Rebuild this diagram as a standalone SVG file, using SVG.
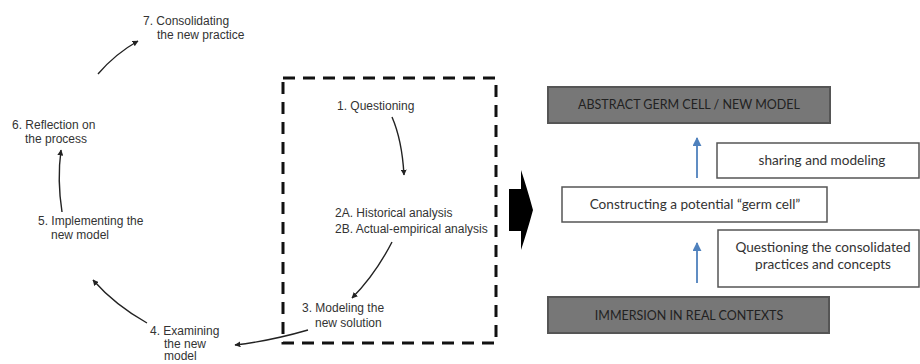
<svg xmlns="http://www.w3.org/2000/svg" width="920" height="364" viewBox="0 0 920 364">
<style>
.lt{font-family:"Liberation Sans",Arial,sans-serif;font-size:12px;fill:#333}
.rt{font-family:Lato,"Liberation Sans",sans-serif;font-size:13.6px;fill:#333;text-anchor:middle}
.up{font-size:12.5px;fill:#222}
.gray{fill:#777;stroke:#555;stroke-width:2}
.wbox{fill:#fff;stroke:#555;stroke-width:1.5}
.c{fill:none;stroke:#222;stroke-width:1.4;marker-end:url(#ah)}
.b{fill:none;stroke:#4f81bd;stroke-width:1.8;marker-end:url(#bh)}
</style>
<defs>
<marker id="ah" viewBox="0 0 10 10" refX="9" refY="5" markerWidth="6" markerHeight="6" orient="auto" markerUnits="userSpaceOnUse"><path d="M0,0 L10,5 L0,10 Z" fill="#222"/></marker>
<marker id="bh" viewBox="0 0 10 10" refX="9" refY="5" markerWidth="9" markerHeight="9" orient="auto" markerUnits="userSpaceOnUse"><path d="M0,0 L10,5 L0,10 Z" fill="#4f81bd"/></marker>
</defs>
<rect width="920" height="364" fill="#fff"/>
<g id="frame">
<rect x="283" y="78" width="213" height="265" fill="none" stroke="#111" stroke-width="3" stroke-dasharray="12,8"/>
</g>
<g id="n7"><text class="lt" x="143" y="25">7. Consolidating</text><text class="lt" x="157" y="39">the new practice</text></g>
<g id="n6"><text class="lt" x="12" y="129">6. Reflection on</text><text class="lt" x="25" y="143">the process</text></g>
<g id="n5"><text class="lt" x="38" y="225">5. Implementing the</text><text class="lt" x="51" y="239">new model</text></g>
<g id="n4"><text class="lt" x="150" y="335">4. Examining</text><text class="lt" x="164" y="347.5">the new</text><text class="lt" x="164" y="360">model</text></g>
<g id="n1"><text class="lt" x="337" y="110">1. Questioning</text></g>
<g id="n2"><text class="lt" x="335" y="217">2A. Historical analysis</text><text class="lt" x="335" y="233">2B. Actual-empirical analysis</text></g>
<g id="n3"><text class="lt" x="302" y="312">3. Modeling the</text><text class="lt" x="315" y="327">new solution</text></g>
<g id="bigarrow"><path d="M509,189 L521,189 L521,170 Q527,188 533,210 Q527,232 521,250 L521,231 L509,231 Z" fill="#000"/></g>
<g id="abstract"><rect class="gray" x="548" y="87" width="282" height="36"/><text class="rt up" x="689" y="109">ABSTRACT GERM CELL / NEW MODEL</text></g>
<g id="sharing"><rect class="wbox" x="717" y="143" width="202" height="35"/><text class="rt" x="822" y="165">sharing and modeling</text></g>
<g id="constructing"><rect class="wbox" x="562" y="187" width="265" height="35"/><text class="rt" x="695" y="209">Constructing a potential “germ cell”</text></g>
<g id="questioning"><rect class="wbox" x="718" y="230" width="201" height="57"/><text class="rt" x="823" y="252">Questioning the consolidated</text><text class="rt" x="823" y="269">practices and concepts</text></g>
<g id="immersion"><rect class="gray" x="548" y="297" width="281" height="36"/><text class="rt up" x="689" y="320">IMMERSION IN REAL CONTEXTS</text></g>
<g id="connectors">
<path class="c" d="M392,117 Q402,140 404,175"/>
<path class="c" d="M392,242 Q375,275 352,298"/>
<path class="c" d="M308,330 Q270,341 235,345"/>
<path class="c" d="M147,323 Q115,305 93,280"/>
<path class="c" d="M62,212 Q57,180 61,150"/>
<path class="c" d="M98,74 Q115,54 138,41"/>
<path class="b" d="M697,178 L697,138"/>
<path class="b" d="M697,283 L697,243"/>
</g>
</svg>
